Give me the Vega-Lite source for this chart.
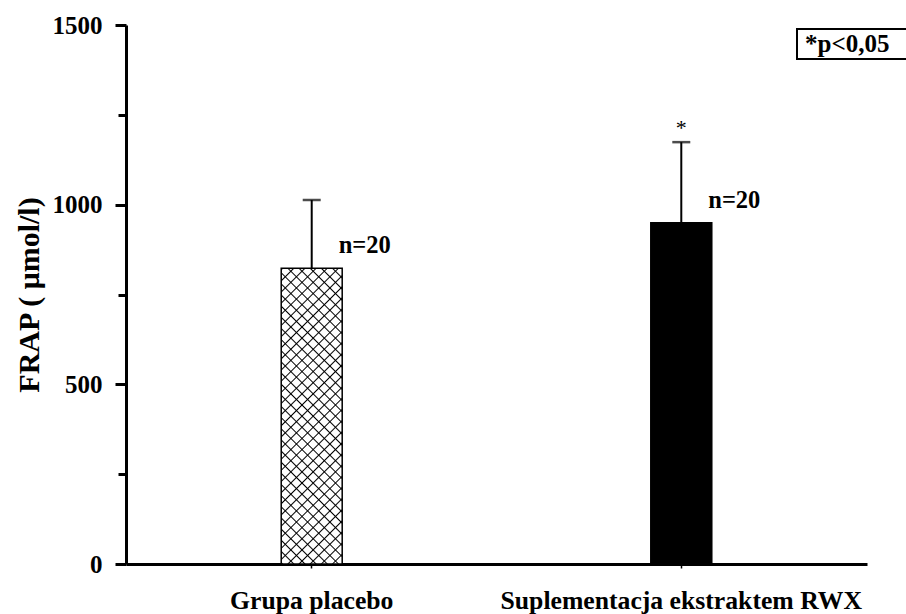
{
  "$schema": "https://vega.github.io/schema/vega-lite/v6.json",
  "width": 741,
  "height": 539,
  "autosize": {"type": "none"},
  "padding": {"left": 126, "top": 25, "right": 39, "bottom": 50},
  "background": "white",
  "config": {
    "view": {"stroke": null},
    "font": "Liberation Serif",
    "axis": {"grid": false, "domainColor": "black", "tickColor": "black", "labelColor": "black", "titleColor": "black", "labelFont": "Liberation Serif", "titleFont": "Liberation Serif", "labelFontWeight": "bold", "titleFontWeight": "bold"}
  },
  "data": {
    "values": [
      {"group": "Grupa placebo", "mean": 823, "upper": 1013, "n": "n=20", "star": "", "note": "*p<0,05"},
      {"group": "Suplementacja ekstraktem RWX", "mean": 950, "upper": 1174, "n": "n=20", "star": "*", "note": "*p<0,05"}
    ]
  },
  "encoding": {
    "x": {
      "field": "group", "type": "nominal", "sort": null,
      "scale": {"paddingInner": 0.835, "paddingOuter": 0.42},
      "axis": {
        "title": null, "labelAngle": 0, "labelFontSize": 25.7, "labelPadding": 20,
        "domainWidth": 3, "tickSize": 4, "tickWidth": 1.5, "labelLimit": 400
      }
    },
    "y": {
      "type": "quantitative",
      "scale": {"domain": [0, 1500], "nice": false},
      "axis": {
        "title": "FRAP ( μmol/l)", "titleFontSize": 30, "titlePadding": 8,
        "values": [0, 250, 500, 750, 1000, 1250, 1500], "format": "d",
        "labelExpr": "datum.value % 500 === 0 ? datum.label : ''",
        "labelFontSize": 25, "labelPadding": 13,
        "domainWidth": 3, "tickWidth": 3,
        "tickSize": {"condition": {"test": "datum.value % 500 === 0", "value": 11}, "value": 8}
      }
    }
  },
  "layer": [
    {
      "mark": {"type": "bar", "stroke": "black", "strokeWidth": 1.5},
      "encoding": {
        "y": {"field": "mean"},
        "fill": {"condition": {"test": "datum.group === 'Grupa placebo'", "value": "white"}, "value": "black"}
      }
    },
    {
      "transform": [{"filter": "datum.group === 'Grupa placebo'"}],
      "mark": {"type": "bar", "strokeWidth": 0, "fill": {"gradient": "linear", "x1": 0, "y1": 1, "x2": 0.2384, "y2": -0.157, "stops": [
        {"offset": 0, "color": "transparent"}, {"offset": 0.004, "color": "black"}, {"offset": 0.008, "color": "transparent"},
        {"offset": 0.03125, "color": "transparent"}, {"offset": 0.03525, "color": "black"}, {"offset": 0.03925, "color": "transparent"},
        {"offset": 0.0625, "color": "transparent"}, {"offset": 0.0665, "color": "black"}, {"offset": 0.0705, "color": "transparent"},
        {"offset": 0.09375, "color": "transparent"}, {"offset": 0.09775, "color": "black"}, {"offset": 0.10175, "color": "transparent"},
        {"offset": 0.125, "color": "transparent"}, {"offset": 0.129, "color": "black"}, {"offset": 0.133, "color": "transparent"},
        {"offset": 0.15625, "color": "transparent"}, {"offset": 0.16025, "color": "black"}, {"offset": 0.16425, "color": "transparent"},
        {"offset": 0.1875, "color": "transparent"}, {"offset": 0.1915, "color": "black"}, {"offset": 0.1955, "color": "transparent"},
        {"offset": 0.21875, "color": "transparent"}, {"offset": 0.22275, "color": "black"}, {"offset": 0.22675, "color": "transparent"},
        {"offset": 0.25, "color": "transparent"}, {"offset": 0.254, "color": "black"}, {"offset": 0.258, "color": "transparent"},
        {"offset": 0.28125, "color": "transparent"}, {"offset": 0.28525, "color": "black"}, {"offset": 0.28925, "color": "transparent"},
        {"offset": 0.3125, "color": "transparent"}, {"offset": 0.3165, "color": "black"}, {"offset": 0.3205, "color": "transparent"},
        {"offset": 0.34375, "color": "transparent"}, {"offset": 0.34775, "color": "black"}, {"offset": 0.35175, "color": "transparent"},
        {"offset": 0.375, "color": "transparent"}, {"offset": 0.379, "color": "black"}, {"offset": 0.383, "color": "transparent"},
        {"offset": 0.40625, "color": "transparent"}, {"offset": 0.41025, "color": "black"}, {"offset": 0.41425, "color": "transparent"},
        {"offset": 0.4375, "color": "transparent"}, {"offset": 0.4415, "color": "black"}, {"offset": 0.4455, "color": "transparent"},
        {"offset": 0.46875, "color": "transparent"}, {"offset": 0.47275, "color": "black"}, {"offset": 0.47675, "color": "transparent"},
        {"offset": 0.5, "color": "transparent"}, {"offset": 0.504, "color": "black"}, {"offset": 0.508, "color": "transparent"},
        {"offset": 0.53125, "color": "transparent"}, {"offset": 0.53525, "color": "black"}, {"offset": 0.53925, "color": "transparent"},
        {"offset": 0.5625, "color": "transparent"}, {"offset": 0.5665, "color": "black"}, {"offset": 0.5705, "color": "transparent"},
        {"offset": 0.59375, "color": "transparent"}, {"offset": 0.59775, "color": "black"}, {"offset": 0.60175, "color": "transparent"},
        {"offset": 0.625, "color": "transparent"}, {"offset": 0.629, "color": "black"}, {"offset": 0.633, "color": "transparent"},
        {"offset": 0.65625, "color": "transparent"}, {"offset": 0.66025, "color": "black"}, {"offset": 0.66425, "color": "transparent"},
        {"offset": 0.6875, "color": "transparent"}, {"offset": 0.6915, "color": "black"}, {"offset": 0.6955, "color": "transparent"},
        {"offset": 0.71875, "color": "transparent"}, {"offset": 0.72275, "color": "black"}, {"offset": 0.72675, "color": "transparent"},
        {"offset": 0.75, "color": "transparent"}, {"offset": 0.754, "color": "black"}, {"offset": 0.758, "color": "transparent"},
        {"offset": 0.78125, "color": "transparent"}, {"offset": 0.78525, "color": "black"}, {"offset": 0.78925, "color": "transparent"},
        {"offset": 0.8125, "color": "transparent"}, {"offset": 0.8165, "color": "black"}, {"offset": 0.8205, "color": "transparent"},
        {"offset": 0.84375, "color": "transparent"}, {"offset": 0.84775, "color": "black"}, {"offset": 0.85175, "color": "transparent"},
        {"offset": 0.875, "color": "transparent"}, {"offset": 0.879, "color": "black"}, {"offset": 0.883, "color": "transparent"},
        {"offset": 0.90625, "color": "transparent"}, {"offset": 0.91025, "color": "black"}, {"offset": 0.91425, "color": "transparent"},
        {"offset": 0.9375, "color": "transparent"}, {"offset": 0.9415, "color": "black"}, {"offset": 0.9455, "color": "transparent"},
        {"offset": 0.96875, "color": "transparent"}, {"offset": 0.97275, "color": "black"}, {"offset": 0.97675, "color": "transparent"},
        {"offset": 1, "color": "transparent"}
      ]}},
      "encoding": {"y": {"field": "mean"}}
    },
    {
      "transform": [{"filter": "datum.group === 'Grupa placebo'"}],
      "mark": {"type": "bar", "strokeWidth": 0, "fill": {"gradient": "linear", "x1": 0, "y1": 0, "x2": 0.2384, "y2": 1.157, "stops": [
        {"offset": 0, "color": "transparent"}, {"offset": 0.004, "color": "black"}, {"offset": 0.008, "color": "transparent"},
        {"offset": 0.03125, "color": "transparent"}, {"offset": 0.03525, "color": "black"}, {"offset": 0.03925, "color": "transparent"},
        {"offset": 0.0625, "color": "transparent"}, {"offset": 0.0665, "color": "black"}, {"offset": 0.0705, "color": "transparent"},
        {"offset": 0.09375, "color": "transparent"}, {"offset": 0.09775, "color": "black"}, {"offset": 0.10175, "color": "transparent"},
        {"offset": 0.125, "color": "transparent"}, {"offset": 0.129, "color": "black"}, {"offset": 0.133, "color": "transparent"},
        {"offset": 0.15625, "color": "transparent"}, {"offset": 0.16025, "color": "black"}, {"offset": 0.16425, "color": "transparent"},
        {"offset": 0.1875, "color": "transparent"}, {"offset": 0.1915, "color": "black"}, {"offset": 0.1955, "color": "transparent"},
        {"offset": 0.21875, "color": "transparent"}, {"offset": 0.22275, "color": "black"}, {"offset": 0.22675, "color": "transparent"},
        {"offset": 0.25, "color": "transparent"}, {"offset": 0.254, "color": "black"}, {"offset": 0.258, "color": "transparent"},
        {"offset": 0.28125, "color": "transparent"}, {"offset": 0.28525, "color": "black"}, {"offset": 0.28925, "color": "transparent"},
        {"offset": 0.3125, "color": "transparent"}, {"offset": 0.3165, "color": "black"}, {"offset": 0.3205, "color": "transparent"},
        {"offset": 0.34375, "color": "transparent"}, {"offset": 0.34775, "color": "black"}, {"offset": 0.35175, "color": "transparent"},
        {"offset": 0.375, "color": "transparent"}, {"offset": 0.379, "color": "black"}, {"offset": 0.383, "color": "transparent"},
        {"offset": 0.40625, "color": "transparent"}, {"offset": 0.41025, "color": "black"}, {"offset": 0.41425, "color": "transparent"},
        {"offset": 0.4375, "color": "transparent"}, {"offset": 0.4415, "color": "black"}, {"offset": 0.4455, "color": "transparent"},
        {"offset": 0.46875, "color": "transparent"}, {"offset": 0.47275, "color": "black"}, {"offset": 0.47675, "color": "transparent"},
        {"offset": 0.5, "color": "transparent"}, {"offset": 0.504, "color": "black"}, {"offset": 0.508, "color": "transparent"},
        {"offset": 0.53125, "color": "transparent"}, {"offset": 0.53525, "color": "black"}, {"offset": 0.53925, "color": "transparent"},
        {"offset": 0.5625, "color": "transparent"}, {"offset": 0.5665, "color": "black"}, {"offset": 0.5705, "color": "transparent"},
        {"offset": 0.59375, "color": "transparent"}, {"offset": 0.59775, "color": "black"}, {"offset": 0.60175, "color": "transparent"},
        {"offset": 0.625, "color": "transparent"}, {"offset": 0.629, "color": "black"}, {"offset": 0.633, "color": "transparent"},
        {"offset": 0.65625, "color": "transparent"}, {"offset": 0.66025, "color": "black"}, {"offset": 0.66425, "color": "transparent"},
        {"offset": 0.6875, "color": "transparent"}, {"offset": 0.6915, "color": "black"}, {"offset": 0.6955, "color": "transparent"},
        {"offset": 0.71875, "color": "transparent"}, {"offset": 0.72275, "color": "black"}, {"offset": 0.72675, "color": "transparent"},
        {"offset": 0.75, "color": "transparent"}, {"offset": 0.754, "color": "black"}, {"offset": 0.758, "color": "transparent"},
        {"offset": 0.78125, "color": "transparent"}, {"offset": 0.78525, "color": "black"}, {"offset": 0.78925, "color": "transparent"},
        {"offset": 0.8125, "color": "transparent"}, {"offset": 0.8165, "color": "black"}, {"offset": 0.8205, "color": "transparent"},
        {"offset": 0.84375, "color": "transparent"}, {"offset": 0.84775, "color": "black"}, {"offset": 0.85175, "color": "transparent"},
        {"offset": 0.875, "color": "transparent"}, {"offset": 0.879, "color": "black"}, {"offset": 0.883, "color": "transparent"},
        {"offset": 0.90625, "color": "transparent"}, {"offset": 0.91025, "color": "black"}, {"offset": 0.91425, "color": "transparent"},
        {"offset": 0.9375, "color": "transparent"}, {"offset": 0.9415, "color": "black"}, {"offset": 0.9455, "color": "transparent"},
        {"offset": 0.96875, "color": "transparent"}, {"offset": 0.97275, "color": "black"}, {"offset": 0.97675, "color": "transparent"},
        {"offset": 1, "color": "transparent"}
      ]}},
      "encoding": {"y": {"field": "mean"}}
    },
    {
      "mark": {"type": "rule", "color": "black", "strokeWidth": 2},
      "encoding": {"y": {"field": "mean"}, "y2": {"field": "upper"}}
    },
    {
      "mark": {"type": "tick", "color": "black", "size": 18, "thickness": 2.5, "orient": "horizontal"},
      "encoding": {"y": {"field": "upper"}}
    },
    {
      "mark": {"type": "text", "align": "left", "baseline": "alphabetic", "dx": 27, "dy": -15, "fontSize": 24.5, "fontWeight": "bold", "font": "Liberation Serif", "color": "black"},
      "encoding": {"y": {"field": "mean"}, "text": {"field": "n"}}
    },
    {
      "mark": {"type": "text", "align": "center", "baseline": "alphabetic", "dy": -7, "fontSize": 22, "font": "Liberation Serif"},
      "encoding": {
        "y": {"field": "upper"},
        "text": {"field": "star"},
        "color": {
          "field": "note", "type": "nominal",
          "scale": {"range": ["black"]},
          "legend": {
            "title": null, "orient": "none", "legendX": 671, "legendY": 4,
            "strokeColor": "black", "padding": 2,
            "symbolSize": 0, "symbolOpacity": 0, "labelOffset": -19,
            "labelFont": "Liberation Serif", "labelFontWeight": "bold", "labelFontSize": 25, "labelColor": "black",
            "labelLimit": 400,
            "labelExpr": "datum.label + '\u2800\u2800\u2800'",
            "encode": {"legend": {"update": {"strokeWidth": {"value": 2}}}}
          }
        }
      }
    }
  ]
}
